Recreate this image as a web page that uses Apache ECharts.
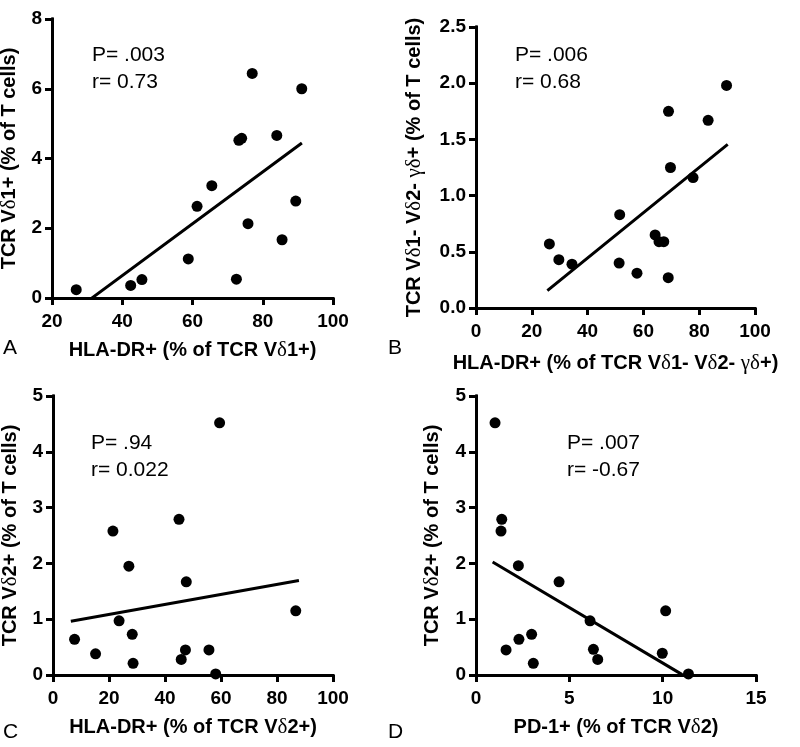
<!DOCTYPE html>
<html>
<head>
<meta charset="utf-8">
<script src="https://cdn.jsdelivr.net/npm/echarts@6/dist/echarts.min.js"></script>
<style>html,body{margin:0;padding:0;background:#fff;}#c{width:800px;height:747px;}</style>
</head>
<body>
<div id="c"></div>
<script>
// Panel A: HLA-DR+ (% of TCR Vδ1+) vs TCR Vδ1+ (% of T cells)
var pointsA = [[26.9,0.24],[42.4,0.36],[45.6,0.53],[58.8,1.12],[61.3,2.63],[65.5,3.22],[72.5,0.54],[73.2,4.52],[74.0,4.58],[75.8,2.13],[77.0,6.44],[84.0,4.66],[85.5,1.67],[89.4,2.78],[91.1,6.0]];
var fitA = [[31.4,0],[90.8,4.42]];
// Panel B
var pointsB = [[26.3,0.57],[29.7,0.43],[34.4,0.39],[51.3,0.40],[51.5,0.83],[57.7,0.31],[64.2,0.65],[65.6,0.59],[67.3,0.59],[68.9,0.27],[69.0,1.75],[69.7,1.25],[77.8,1.16],[83.2,1.67],[89.8,1.98]];
var fitB = [[26.0,0.163],[89.8,1.447]];
// Panel C
var pointsC = [[7.7,0.64],[15.2,0.38],[21.4,2.58],[23.6,0.97],[27.1,1.95],[28.3,0.73],[28.6,0.21],[45.0,2.79],[45.8,0.28],[47.3,0.45],[47.6,1.67],[55.7,0.45],[58.1,0.02],[59.5,4.52],[86.7,1.15]];
var fitC = [[6.9,0.967],[87.3,1.69]];
// Panel D
var pointsD = [[1.02,4.52],[1.38,2.79],[1.34,2.58],[1.61,0.45],[2.27,1.96],[2.30,0.64],[2.98,0.73],[3.07,0.21],[4.45,1.67],[6.11,0.97],[6.29,0.46],[6.52,0.28],[9.98,0.39],[10.16,1.15],[11.38,0.02]];
var fitD = [[0.96,2.01],[10.98,0.02]];

var statsA = ['P= .003', 'r= 0.73'];
var statsB = ['P= .006', 'r= 0.68'];
var statsC = ['P= .94', 'r= 0.022'];
var statsD = ['P= .007', 'r= -0.67'];

var xTitles = ['HLA-DR+ (% of TCR V{g|δ}1+)', 'HLA-DR+ (% of TCR V{g|δ}1- V{g|δ}2- {g|γδ}+)', 'HLA-DR+ (% of TCR V{g|δ}2+)', 'PD-1+ (% of TCR V{g|δ}2)'];
var yTitles = ['TCR V{g|δ}1+ (% of T cells)', 'TCR V{g|δ}1- V{g|δ}2- {g|γδ}+ (% of T cells)', 'TCR V{g|δ}2+ (% of T cells)', 'TCR V{g|δ}2+ (% of T cells)'];
var xRanges = [[20,100,20],[0,100,20],[0,100,20],[0,15,5]];
var yRanges = [[0,8,2],[0,2.5,0.5],[0,5,1],[0,5,1]];
var panelLetters = ['A','B','C','D'];

var FONT = 'Liberation Sans';
var grids = [
  {left:52, top:19, width:281, height:279, outerBoundsMode:'none'},
  {left:476, top:27, width:279, height:281, outerBoundsMode:'none'},
  {left:53, top:396, width:280, height:279, outerBoundsMode:'none'},
  {left:476, top:396, width:280, height:279, outerBoundsMode:'none'}
];
var yNameGap = [32, 51, 32, 33];
var xNameGap = [42, 45, 42, 42];
var yDecimals = [0, 1, 0, 0];
var TICK_PX = 7;

function nameStyle() {
  return {fontFamily: FONT, fontWeight: 'bold', fontSize: 20, color: '#000',
    rich: {g: {fontFamily: 'Liberation Serif', fontWeight: 'normal', fontSize: 21, color: '#000'}}};
}
function mkLine() { return {show: true, onZero: false, lineStyle: {color: '#000', width: 3}}; }
function mkTick() { return {show: true, length: TICK_PX, lineStyle: {color: '#000', width: 3}}; }
function fmt(d) { return function (v) { return v.toFixed(d); }; }

var xAxes = [], yAxes = [], series = [];
for (var i = 0; i < 4; i++) {
  xAxes.push({type: 'value', gridIndex: i, min: xRanges[i][0], max: xRanges[i][1], interval: xRanges[i][2],
    name: xTitles[i], nameLocation: 'middle', nameGap: xNameGap[i], nameTextStyle: nameStyle(),
    axisLine: mkLine(), axisTick: mkTick(), splitLine: {show: false},
    axisLabel: {fontFamily: FONT, fontWeight: 'bold', fontSize: 19, color: '#000', margin: 14}});
  yAxes.push({type: 'value', gridIndex: i, min: yRanges[i][0], max: yRanges[i][1], interval: yRanges[i][2],
    name: yTitles[i], nameLocation: 'middle', nameGap: yNameGap[i], nameTextStyle: nameStyle(),
    axisLine: mkLine(), axisTick: mkTick(), splitLine: {show: false},
    axisLabel: {fontFamily: FONT, fontWeight: 'bold', fontSize: 19, color: '#000', margin: 10, formatter: fmt(yDecimals[i])}});
}

// Axis lines and tick marks, drawn through each panel's own scales
function axisSegments(j) {
  var xr = xRanges[j], yr = yRanges[j], g = grids[j];
  var dy = TICK_PX * (yr[1] - yr[0]) / g.height;
  var dx = TICK_PX * (xr[1] - xr[0]) / g.width;
  var segs = [
    [{coord: [xr[0], yr[0]]}, {coord: [xr[1], yr[0]]}],
    [{coord: [xr[0], yr[0]]}, {coord: [xr[0], yr[1]]}]
  ];
  var nx = Math.round((xr[1] - xr[0]) / xr[2]);
  for (var a = 0; a <= nx; a++) {
    var vx = xr[0] + a * xr[2];
    segs.push([{coord: [vx, yr[0]]}, {coord: [vx, yr[0] - dy]}]);
  }
  var ny = Math.round((yr[1] - yr[0]) / yr[2]);
  for (var b = 0; b <= ny; b++) {
    var vy = yr[0] + b * yr[2];
    segs.push([{coord: [xr[0], vy]}, {coord: [xr[0] - dx, vy]}]);
  }
  return segs;
}

var pts = [pointsA, pointsB, pointsC, pointsD];
var fits = [fitA, fitB, fitC, fitD];
for (var j = 0; j < 4; j++) {
  var mlData = axisSegments(j);
  mlData.push([{coord: fits[j][0]}, {coord: fits[j][1]}]);
  series.push({type: 'scatter', xAxisIndex: j, yAxisIndex: j, data: pts[j], symbol: 'circle', symbolSize: 11,
    clip: false, z: 3,
    itemStyle: {color: '#000', opacity: 1},
    markLine: {silent: true, symbol: ['none', 'none'], label: {show: false}, animation: false,
      precision: 6,
      lineStyle: {color: '#000', width: 3, type: 'solid', opacity: 1, cap: 'square'},
      emphasis: {disabled: true},
      data: mlData}});
}
var stats = [statsA, statsB, statsC, statsD];
var statPos = [[92,42],[515,42],[91,430],[567,430]];
var letterPos = [[3,338],[388,338],[3,722],[388,722]];
var titles = [];
for (var k = 0; k < 4; k++) {
  titles.push({text: stats[k].join('\n'), left: statPos[k][0], top: statPos[k][1], padding: 0,
    textStyle: {fontFamily: FONT, fontSize: 21, fontWeight: 'normal', color: '#000', lineHeight: 27}});
  titles.push({text: panelLetters[k], left: letterPos[k][0], top: letterPos[k][1], padding: 0,
    textStyle: {fontFamily: FONT, fontSize: 21, fontWeight: 'normal', color: '#000'}});
}

var chart = echarts.init(document.getElementById('c'));
chart.setOption({
  animation: false,
  title: titles,
  grid: grids,
  xAxis: xAxes,
  yAxis: yAxes,
  series: series
});
</script>
</body>
</html>
